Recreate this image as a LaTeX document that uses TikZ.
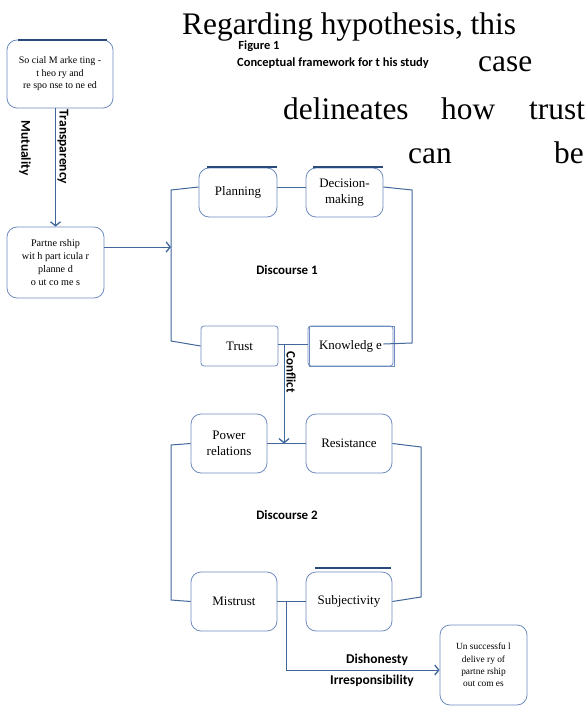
\documentclass[tikz,border=0pt]{standalone}
\usepackage{fontspec}
\setmainfont{Liberation Serif}
\newfontfamily\lblfont{Carlito}
\usepackage{tikz}
\usetikzlibrary{arrows.meta}
\definecolor{boxline}{HTML}{6F8CBF}
\definecolor{conline}{HTML}{41679B}
\definecolor{barblue}{HTML}{2B4A7C}

\begin{document}
\begin{tikzpicture}[
  x=1bp, y=-1bp,
  box/.style={
    draw=boxline, rounded corners=10bp, line width=0.8bp,
    align=center, inner sep=1bp, font=\fontsize{13}{16}\selectfont
  },
  sqbox/.style={box, rounded corners=3bp},
  con/.style={draw=conline, line width=1bp},
  arr/.style={con, -{Straight Barb[length=4bp, width=10bp, line width=1.3bp]}},
  bar/.style={draw=barblue, line width=2bp},
  lbl/.style={font=\lblfont\bfseries\fontsize{13}{15}\selectfont},
  big/.style={font=\fontsize{31.5}{36}\selectfont, inner sep=0pt}
]
  \useasboundingbox (0,0) rectangle (587,713);

  % running text of the page
  \node[big, anchor=base west] (t1) at (182,35) {Regarding hypothesis, this};
  \node[big, anchor=base west] (t2) at (478,72) {case};
  \node[big, anchor=base west] (t3) at (283,120) {delineates};
  \node[big, anchor=base west] (t4) at (441,120) {how};
  \node[big, anchor=base west] (t5) at (529,120) {trust};
  \node[big, anchor=base west] (t6) at (408,163) {can};
  \node[big, anchor=base west] (t7) at (554,163) {be};
  \node[lbl, font=\lblfont\bfseries\fontsize{12.5}{14}\selectfont, inner sep=1bp] (fig) at (259,46) {Figure 1};
  \node[lbl, font=\lblfont\bfseries\fontsize{12.5}{14}\selectfont] (cap) at (333,63) {Conceptual framework for t his study};

  % boxes
  \node[box, minimum width=106bp, minimum height=68bp, font=\fontsize{10}{12.5}\selectfont] (soc) at (60,74)
    {So cial M arke ting -\\t heo ry and\\re spo nse to ne ed};
  \node[box, minimum width=97bp, minimum height=71bp, font=\fontsize{10.2}{13.3}\selectfont] (part) at (55.5,262.5)
    {Partne rship\\wit h part icula r\\planne d\\o ut co me s};
  \node[box, minimum width=78bp, minimum height=49bp] (plan) at (238,192.5) {Planning};
  \node[box, minimum width=77bp, minimum height=49bp] (dec) at (344.5,192.5) {Decision-\\making};
  \node[sqbox, minimum width=77bp, minimum height=40bp] (trust) at (239.5,346) {Trust};
  \node[sqbox, minimum width=85bp, minimum height=40bp] (know) at (350.5,346) {Knowledg e};
  \draw[boxline, line width=0.8bp] (know.north west) ++(2,1) rectangle ([xshift=1bp]know.south east);
  \node[box, minimum width=76bp, minimum height=59bp] (power) at (229,443.5) {Power\\relations};
  \node[box, minimum width=86bp, minimum height=59bp] (resist) at (349,443.5) {Resistance};
  \node[box, minimum width=86bp, minimum height=59bp] (mis) at (234,601.5) {Mistrust};
  \node[box, minimum width=86bp, minimum height=59bp] (subj) at (349,601.5) {Subjectivity};
  \node[box, minimum width=87bp, minimum height=80bp, font=\fontsize{9.4}{12.5}\selectfont] (unsucc) at (483.5,665)
    {Un successfu l\\delive ry of\\partne rship\\out com es};

  % dark bars on top of some boxes
  \draw[bar] (18,40) -- (107,40);
  \draw[bar] (207,167) -- (277,167);
  \draw[bar] (313,167) -- (383,167);
  \draw[bar] (315,568) -- (391,568);

  % discourse 1
  \coordinate (d1tl) at (171,190);
  \coordinate (d1bl) at (171,341);
  \coordinate (d1tr) at (412,190);
  \coordinate (d1br) at (412,343);
  \coordinate (d1in) at (171,247);
  \draw[arr] (part.north |- soc.south) -- (part.north);
  \draw[arr] (part.east |- d1in) -- (d1in);
  \draw[con] ([yshift=5.5bp]plan.west) -- (d1tl) -- (d1bl) -- (trust.west);
  \draw[con] ([yshift=5.5bp]plan.east) -- ([yshift=5.5bp]dec.west);
  \draw[con] ([yshift=5.5bp]dec.east) -- (d1tr) -- (d1br) -- ([xshift=-10bp,yshift=2bp]know.east);
  \draw[con] ([yshift=2bp]trust.east) -- ([yshift=2bp]know.west);
  \node[lbl] (dis1) at (287,270) {Discourse 1};

  % conflict
  \coordinate (cf) at (284,344);
  \draw[arr] (cf) -- (cf |- power.east);
  \node[lbl, rotate=-90] (conf) at (291,372) {Conflict};

  % discourse 2
  \coordinate (d2tl) at (171,445);
  \coordinate (d2bl) at (171,600);
  \coordinate (d2tr) at (421,447);
  \coordinate (d2br) at (421,597);
  \draw[con] (power.east) -- (resist.west);
  \draw[con] (power.west) -- (d2tl) -- (d2bl) -- (mis.west);
  \draw[con] (resist.east) -- (d2tr) -- (d2br) -- (subj.east);
  \draw[con] (mis.east) -- (subj.west);
  \node[lbl] (dis2) at (287,515) {Discourse 2};

  % way out
  \coordinate (ms) at (286,601.5);
  \draw[arr] (ms) |- ([yshift=-5bp]unsucc.west);
  \node[lbl, font=\lblfont\bfseries\fontsize{13.5}{15}\selectfont] (dish) at (377,660) {Dishonesty};
  \node[lbl, font=\lblfont\bfseries\fontsize{13.5}{15}\selectfont] (irr) at (372,681) {Irresponsibility};

  % labels on the first arrow
  \node[lbl, rotate=-90, font=\lblfont\bfseries\fontsize{13.5}{15}\selectfont] (transp) at (63,147) {Transparency};
  \node[lbl, rotate=-90, font=\lblfont\bfseries\fontsize{13.5}{15}\selectfont] (mutual) at (25,148) {Mutuality};
\end{tikzpicture}
\end{document}
